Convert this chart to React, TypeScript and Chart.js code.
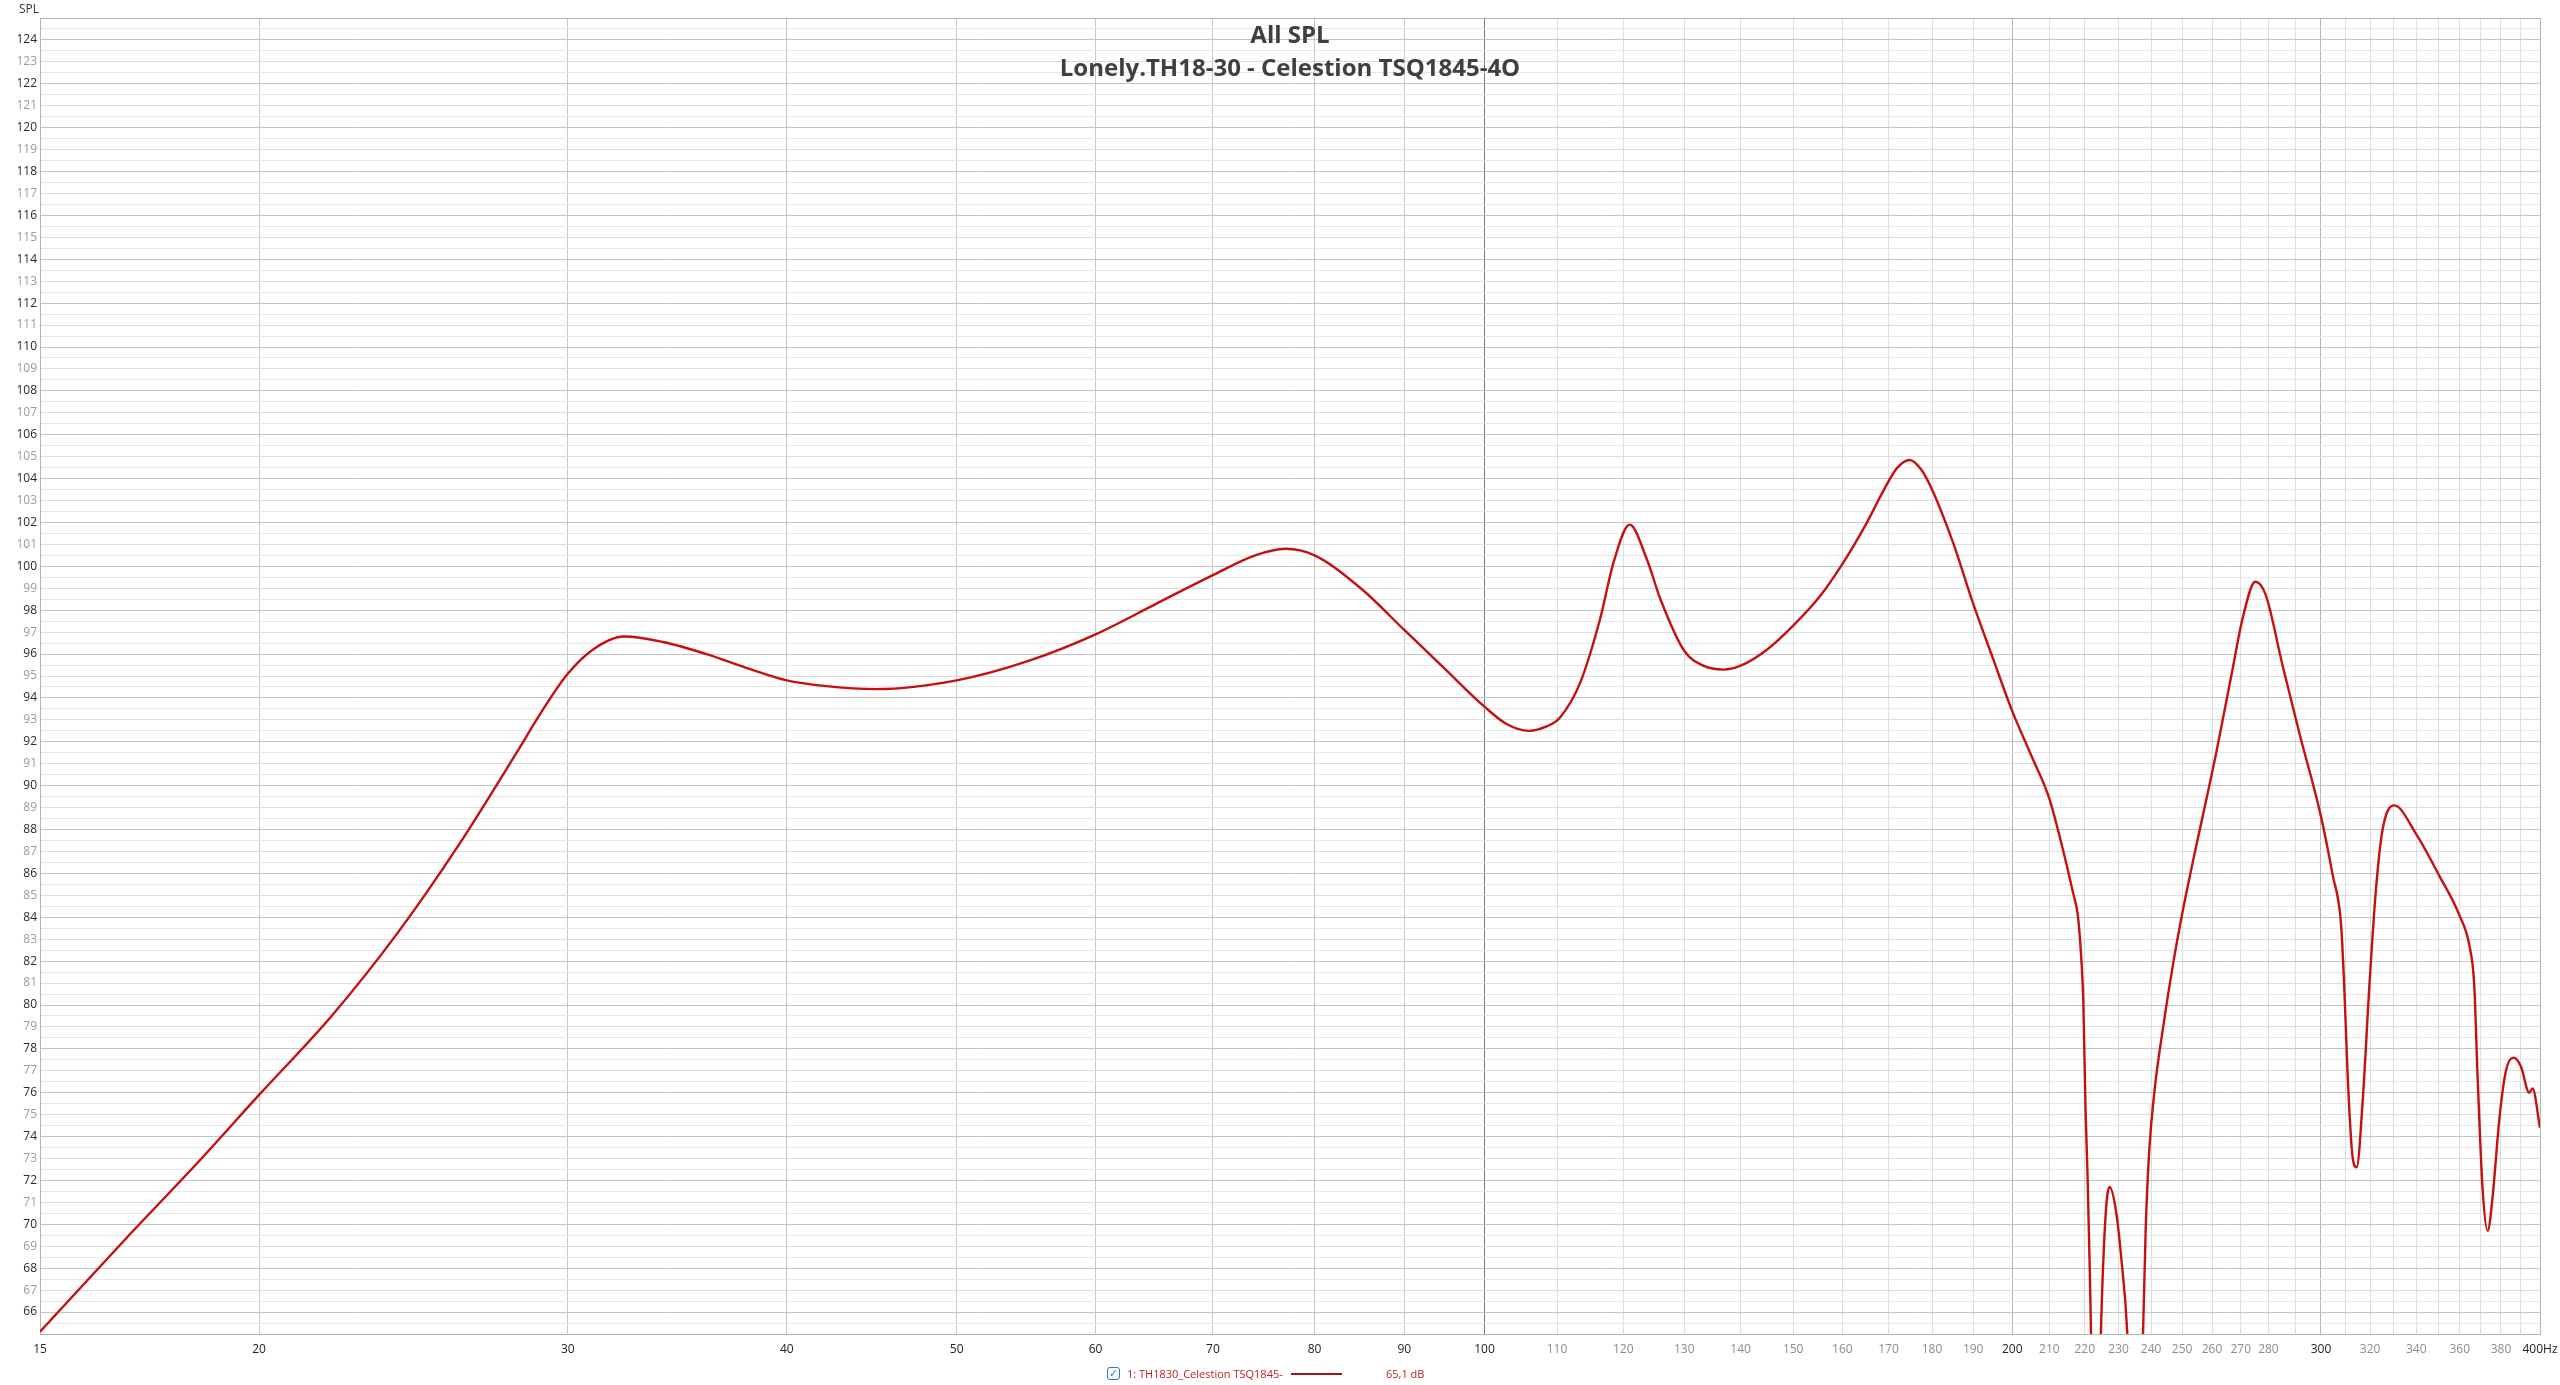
import React, { useEffect, useRef } from 'react';
import { Chart, registerables } from 'chart.js';

Chart.register(...registerables);

// Frequency (Hz) and SPL (dB)
const freqHz = [
  15, 16.86, 18.42, 20, 22, 24, 26, 28, 29, 30, 31, 32.3, 34, 36, 38,
  40, 42, 45, 50, 55, 60, 65, 70, 74, 77, 80, 85, 90, 95, 100, 103, 106, 108.5, 110.4, 113.4, 116.4,
  118.5, 121, 123.8, 126, 130, 133.3, 136.9, 140, 144.9, 150, 155.4, 160, 165, 169, 172, 174.8, 177.5, 180,
  185, 190, 195, 200, 205, 210, 213.9, 216.8, 217.9, 218.7, 219.6, 220.2, 220.8, 221.5, 223.2,
  224.7, 225.6, 226.5, 227.3, 229.2, 230.9, 232.6, 235, 237.5, 238.3, 239.4, 241.1, 243.9, 247.2,
  250.5, 253.8, 257.8, 261.3, 267.1, 270.8, 275.2, 279, 285.2, 291.6, 300, 304.7, 308, 309.3, 310.7,
  312.7, 314.4, 317, 319.7, 322.5, 325.3, 330.3, 339.9, 350.4, 359.8, 364.6, 366.9, 368.5, 370.9,
  373.4, 375.9, 379.2, 382.5, 386.2, 390.1, 394.4, 396.1, 400,
];
const splDb = [
  65.1, 69.5, 72.75, 75.9, 79.5, 83.3, 87.3, 91.4, 93.4, 95.1, 96.2, 96.8, 96.55, 96.0, 95.35,
  94.8, 94.55, 94.4, 94.8, 95.7, 96.9, 98.3, 99.6, 100.5, 100.8, 100.5, 99.0, 97.1, 95.3, 93.6, 92.8, 92.5, 92.7, 93.1, 94.7, 97.6,
  100.2, 101.9, 100.3, 98.5, 96.15, 95.47, 95.29, 95.47, 96.2, 97.3, 98.65, 100.1, 101.9, 103.5, 104.5, 104.85, 104.4, 103.5,
  101.1, 98.3, 95.8, 93.4, 91.4, 89.4, 87.0, 85.0, 84.2, 82.8, 80.0, 75.3, 72.2, 67.5, 55,
  65.1, 69.0, 71.2, 71.7, 70.6, 68.3, 65.1, 55, 65.1, 69.7, 73.3, 76.1, 79.05, 82.0,
  84.5, 86.7, 89.2, 91.4, 95.3, 97.7, 99.3, 98.7, 95.5, 92.4, 88.6, 85.9, 83.7, 80.9, 76.8,
  73.1, 72.6, 75.8, 80.9, 85.3, 88.0, 89.1, 87.8, 85.9, 84.1, 82.7, 80.9, 76.8, 71.7,
  69.7, 71.3, 74.8, 77.0, 77.6, 77.2, 76.0, 76.2, 74.4,
];

const xTickValues = [
  15, 20, 30, 40, 50, 60, 70, 80, 90, 100, 110, 120, 130, 140, 150, 160, 170, 180, 190, 200,
  210, 220, 230, 240, 250, 260, 270, 280, 290, 300, 310, 320, 330, 340, 350, 360, 370, 380, 390, 400,
];
const xHiddenLabels = [290, 310, 330, 350, 370, 390];
const xDarkLabels = [15, 20, 30, 40, 50, 60, 70, 80, 90, 100, 200, 300, 400];

const yMin = 65;
const yMax = 125;
const yStep = 0.5;

const titleLines = ['All SPL', 'Lonely.TH18-30 - Celestion TSQ1845-4O'];
const legendName = '1: TH1830_Celestion TSQ1845-';
const legendValue = '65,1 dB';

const FONT = '"Open Sans", "Noto Sans", sans-serif';
const BORDER = '#b4b4b4';

export default function App() {
  const ref = useRef<HTMLCanvasElement>(null);

  useEffect(() => {
    const canvas = ref.current;
    if (!canvas) return;
    const yTicks: number[] = [];
    for (let v = yMin; v <= yMax + 1e-9; v += yStep) yTicks.push(Math.round(v * 10) / 10);

    const chart = new Chart(canvas, {
      type: 'line',
      data: {
        datasets: [
          {
            data: freqHz.map((f, i) => ({ x: f, y: splDb[i] })),
            borderColor: 'rgb(198,16,16)',
            borderWidth: 2.4,
            pointRadius: 0,
            cubicInterpolationMode: 'monotone',
            fill: false,
          },
        ],
      },
      options: {
        responsive: false,
        animation: false,
        devicePixelRatio: 1,
        layout: { padding: { top: 18, right: 20, left: 0, bottom: 0 } },
        plugins: {
          legend: { display: false },
          tooltip: { enabled: false },
          title: { display: false },
        },
        scales: {
          x: {
            type: 'logarithmic',
            min: 15,
            max: 400,
            afterBuildTicks: (s: any) => {
              s.ticks = xTickValues.map((v) => ({ value: v }));
            },
            afterFit: (s: any) => {
              s.height = 51;
              s.paddingLeft = 0;
              s.paddingRight = 0;
            },
            ticks: {
              autoSkip: false,
              maxRotation: 0,
              minRotation: 0,
              padding: 8,
              font: { family: FONT, size: 12 },
              color: (ctx: any) => (xDarkLabels.includes(ctx.tick?.value) ? '#222222' : '#8c8c8c'),
              callback: (v: any) => {
                const n = Number(v);
                if (xHiddenLabels.includes(n)) return '';
                if (n === 400) return '400Hz';
                return String(n);
              },
            },
            grid: {
              drawTicks: false,
              lineWidth: 1,
              color: (ctx: any) => {
                const v = ctx.tick?.value;
                if (v === 15 || v === 400) return BORDER;
                if (v === 100) return '#7a7a7a';
                if (v === 200 || v === 300) return '#b8b8b8';
                if (v < 100) return '#c8c8c8';
                return '#dddddd';
              },
            },
            border: { color: BORDER, width: 1 },
          },
          y: {
            type: 'linear',
            min: yMin,
            max: yMax,
            afterBuildTicks: (s: any) => {
              s.ticks = yTicks.map((v) => ({ value: v }));
            },
            afterFit: (s: any) => {
              s.width = 40;
              s.paddingTop = 0;
              s.paddingBottom = 0;
            },
            ticks: {
              autoSkip: false,
              padding: 3,
              font: { family: FONT, size: 12 },
              color: (ctx: any) => {
                const v = ctx.tick?.value;
                return v % 2 === 0 ? '#2a2a2a' : '#9a9a9a';
              },
              callback: (v: any) => {
                const n = Number(v);
                if (n === yMin || n === yMax || !Number.isInteger(n)) return '';
                return String(n);
              },
            },
            grid: {
              drawTicks: false,
              lineWidth: 1,
              color: (ctx: any) => {
                const v = ctx.tick?.value;
                if (v === yMin || v === yMax) return BORDER;
                if (!Number.isInteger(v)) return '#e6e6e6';
                if (v % 2 === 0) return '#c4c4c4';
                return '#dcdcdc';
              },
            },
            border: { color: BORDER, width: 1 },
          },
        },
      },
    } as any);
    return () => chart.destroy();
  }, []);

  const abs: React.CSSProperties = { position: 'absolute', whiteSpace: 'nowrap' };

  return (
    <div style={{ position: 'absolute', left: 0, top: 0, width: 2560, height: 1385, background: '#ffffff', overflow: 'hidden' }}>
      <canvas ref={ref} width={2560} height={1385} style={{ position: 'absolute', left: 0, top: 0, width: 2560, height: 1385 }} />
      <div style={{ ...abs, left: 19, top: 1, fontFamily: FONT, fontSize: 12, lineHeight: '16px', color: '#333' }}>SPL</div>
      <div style={{ ...abs, left: 40, width: 2500, top: 20, textAlign: 'center', fontFamily: FONT, fontWeight: 700, fontSize: 24, lineHeight: '28px', color: '#404040' }}>
        {titleLines[0]}
      </div>
      <div style={{ ...abs, left: 40, width: 2500, top: 53, textAlign: 'center', fontFamily: FONT, fontWeight: 700, fontSize: 24, lineHeight: '28px', color: '#404040' }}>
        {titleLines[1]}
      </div>
      <div style={{ ...abs, left: 1107, top: 1367, width: 11, height: 11, border: '1.5px solid #2a78d0', borderRadius: 3, color: '#2a78d0', fontSize: 11, lineHeight: '11px', textAlign: 'center', fontFamily: '"DejaVu Sans", sans-serif', fontWeight: 700 }}>✓</div>
      <div style={{ ...abs, left: 1127, top: 1365, fontFamily: FONT, fontSize: 11, lineHeight: '18px', color: '#c0201c' }}>{legendName}</div>
      <div style={{ ...abs, left: 1291, top: 1373, width: 51, height: 2, background: '#a01616' }} />
      <div style={{ ...abs, left: 1386, top: 1365, fontFamily: FONT, fontSize: 11, lineHeight: '18px', color: '#c0201c' }}>{legendValue}</div>
    </div>
  );
}
